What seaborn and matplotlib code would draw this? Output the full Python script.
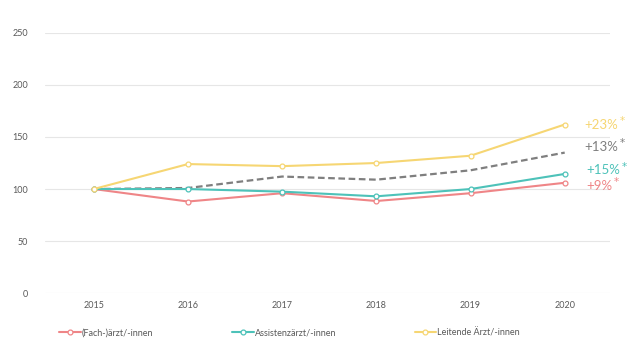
import matplotlib
matplotlib.use('Agg')
import matplotlib.pyplot as plt
import seaborn as sns
import pandas as pd

years = [2015, 2016, 2017, 2018, 2019, 2020]
fach = [100, 88, 96, 88.5, 96, 106]
assistenz = [100, 100, 97.5, 93, 100, 114.5]
leitende = [100, 124, 122, 125, 132, 162]
gesamt = [100, 101, 112, 109, 118, 135]

series_names = ['(Fach-)ärzt/-innen', 'Assistenzärzt/-innen', 'Leitende Ärzt/-innen']
series_colors = ['#EF8587', '#4DC2B9', '#F6D673']
end_labels = ['+9%', '+15%', '+23%', '+13%']

sns.set_style('white')
plt.rcParams['font.family'] = ['Lato', 'DejaVu Sans']

df = pd.DataFrame({
    'year': years * 3,
    'value': fach + assistenz + leitende,
    'group': [series_names[0]] * 6 + [series_names[1]] * 6 + [series_names[2]] * 6,
})
df_total = pd.DataFrame({'year': years, 'value': gesamt})

fig = plt.figure(figsize=(6.4, 3.54), dpi=100)
ax = fig.add_axes([0.070, 0.172, 0.883, 0.735])

sns.lineplot(
    data=df_total, x='year', y='value',
    color='#7F7F7F', linestyle=(0, (3, 1.6)), linewidth=1.6,
    legend=False, ax=ax, zorder=2
)

sns.lineplot(
    data=df, x='year', y='value', hue='group',
    palette=series_colors, hue_order=series_names,
    marker='o', markersize=3.5, markerfacecolor='white',
    markeredgewidth=0.9, linewidth=1.5, ax=ax, zorder=3
)

for line in ax.lines[1:]:
    line.set_markeredgecolor(line.get_color())

ax.set_xlim(2014.48, 2020.48)
ax.set_ylim(0, 250)
ax.set_yticks([0, 50, 100, 150, 200, 250])
ax.set_xticks(years)
ax.yaxis.grid(True, color='#E6E6E6', linewidth=0.8)
ax.set_axisbelow(True)
for s in ax.spines.values():
    s.set_visible(False)
ax.tick_params(axis='both', length=0, labelsize=6.5, colors='#595959')
ax.tick_params(axis='y', pad=12)
ax.tick_params(axis='x', pad=6)
ax.set_xlabel('')
ax.set_ylabel('')

# end labels
label_pos = [(2020.23, 103), (2020.23, 118), (2020.21, 162), (2020.21, 140.5)]
label_colors = series_colors + ['#7F7F7F']
for (x, y), txt, c in zip(label_pos, end_labels, label_colors):
    t = ax.text(x, y, txt, color=c, fontsize=9.5, va='center', ha='left')
    ax.annotate('*', xy=(1, 1), xycoords=t, xytext=(0.8, 2),
                textcoords='offset points', color=c, fontsize=7.5,
                family='DejaVu Sans', ha='left', va='top',
                annotation_clip=False)

handles, labels = ax.get_legend_handles_labels()
for h in handles:
    h.set_markeredgecolor(h.get_color())
    h.set_markerfacecolor('white')
leg = fig.legend(handles, labels, loc='center left', bbox_to_anchor=(0.08, 0.06),
                 ncol=3, frameon=False, fontsize=6.5, columnspacing=8.7,
                 handlelength=2.4, handletextpad=0.1)
for t in leg.get_texts():
    t.set_color('#595959')
if ax.get_legend():
    ax.get_legend().remove()

fig.savefig('out.png', dpi=100)
